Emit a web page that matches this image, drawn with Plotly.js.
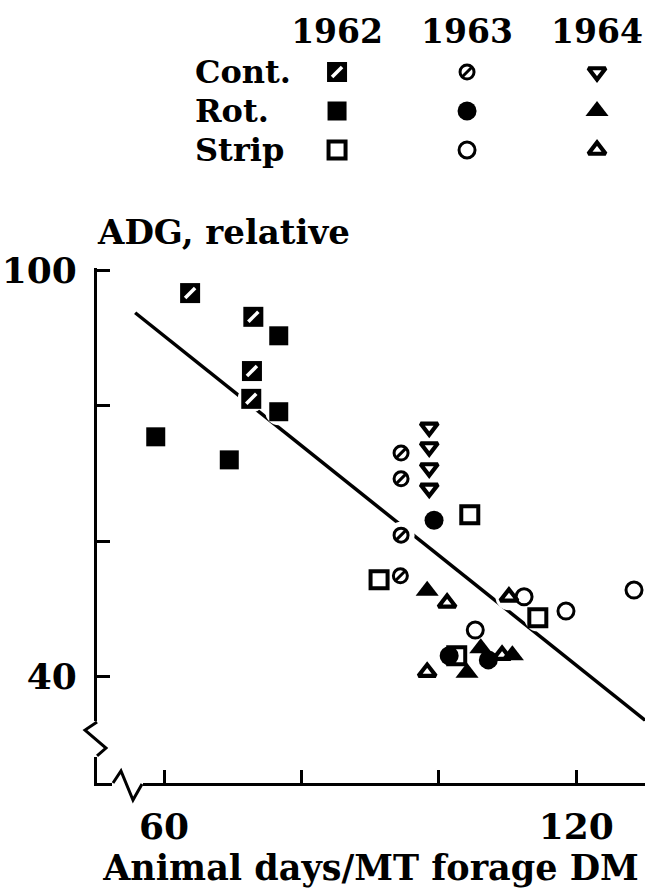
<!DOCTYPE html>
<html>
<head>
<meta charset="utf-8">
<script src="https://cdn.plot.ly/plotly-3.0.1.min.js"></script>
<style>html,body{margin:0;padding:0;background:#fff}#chart{width:660px;height:894px}</style>
</head>
<body>
<div id="chart"></div>
<script>
// ---- data ----
const years = ['1962', '1963', '1964'];
const groups = ['Cont.', 'Rot.', 'Strip'];

const cont1962X = [63.8, 73.0, 72.8, 72.7];
const cont1962Y = [96.6, 93.1, 85.1, 81.0];
const rot1962X = [76.7, 76.7, 58.8, 69.5];
const rot1962Y = [90.3, 79.1, 75.4, 72.0];
const strip1962X = [91.3, 104.5, 114.4, 102.6];
const strip1962Y = [54.3, 63.9, 48.7, 43.1];

const cont1963X = [94.5, 94.5, 94.5, 94.4];
const cont1963Y = [73.0, 69.2, 60.9, 54.9];
const rot1963X = [99.3, 107.2, 101.5];
const rot1963Y = [63.1, 42.5, 43.1];
const strip1963X = [112.4, 118.5, 128.4, 105.3];
const strip1963Y = [51.8, 49.7, 52.8, 46.9];

const cont1964X = [98.6, 98.6, 98.6, 98.6];
const cont1964Y = [76.8, 73.9, 70.8, 67.8];
const rot1964X = [98.3, 104.1, 106.1, 110.7];
const rot1964Y = [52.7, 40.6, 44.2, 43.2];
const strip1964X = [101.2, 110.2, 98.3, 109.2];
const strip1964Y = [50.9, 51.8, 40.7, 43.2];

const fitX = [55.8, 130.0];
const fitY = [93.7, 33.6];

const xTickVals = [60, 80, 100, 120];
const xTickText = ['60', '', '', '120'];
const yTickVals = [40, 60, 80, 100];
const yTickText = ['40', '', '', '100'];

// ---- styling ----
const W = 660, H = 894;
const px = x => x / W;
const py = y => 1 - y / H;
const font = size => ({family: 'DejaVu Serif', size: size, color: '#000', weight: 'bold'});

const series = [
  {year: '1962', group: 'Cont.', x: cont1962X, y: cont1962Y, layers: [
    {symbol: 'square', size: 20, color: '#000', lw: 0},
    {symbol: 'line-ne', size: 10, color: '#fff', lw: 3.5}]},
  {year: '1962', group: 'Rot.', x: rot1962X, y: rot1962Y, layers: [
    {symbol: 'square', size: 19, color: '#000', lw: 0}]},
  {year: '1962', group: 'Strip', x: strip1962X, y: strip1962Y, layers: [
    {symbol: 'square-open', size: 17, color: '#000', lw: 4}]},
  {year: '1963', group: 'Cont.', x: cont1963X, y: cont1963Y, layers: [
    {symbol: 'circle-open', size: 14, color: '#000', lw: 3},
    {symbol: 'line-ne', size: 9, color: '#000', lw: 3}]},
  {year: '1963', group: 'Rot.', x: rot1963X, y: rot1963Y, layers: [
    {symbol: 'circle', size: 19, color: '#000', lw: 0}]},
  {year: '1963', group: 'Strip', x: strip1963X, y: strip1963Y, layers: [
    {symbol: 'circle-open', size: 16, color: '#000', lw: 3}]},
  {year: '1964', group: 'Cont.', x: cont1964X, y: cont1964Y, layers: [
    {symbol: 'triangle-down-open', size: 15, color: '#000', lw: 4.2}]},
  {year: '1964', group: 'Rot.', x: rot1964X, y: rot1964Y, layers: [
    {symbol: 'triangle-up', size: 20, color: '#000', lw: 0}]},
  {year: '1964', group: 'Strip', x: strip1964X, y: strip1964Y, layers: [
    {symbol: 'triangle-up-open', size: 15, color: '#000', lw: 4.2}]}
];

const traces = [];
// fitted line
traces.push({type: 'scatter', mode: 'lines', x: fitX, y: fitY, xaxis: 'x', yaxis: 'y',
  line: {color: '#000', width: 3.5}, hoverinfo: 'skip', showlegend: false});
// white halo so the line breaks around the points
traces.push({type: 'scatter', mode: 'markers',
  x: [].concat(...series.map(s => s.x)), y: [].concat(...series.map(s => s.y)),
  xaxis: 'x', yaxis: 'y', marker: {symbol: 'circle', size: 27, color: '#fff'},
  hoverinfo: 'skip', showlegend: false});

series.forEach(s => {
  s.layers.forEach(l => {
    const marker = {symbol: l.symbol, size: l.size, color: l.color,
      line: {color: l.color, width: l.lw}};
    traces.push({type: 'scatter', mode: 'markers', x: s.x, y: s.y, xaxis: 'x', yaxis: 'y',
      marker: marker, showlegend: false, name: s.group + ' ' + s.year});
    traces.push({type: 'scatter', mode: 'markers', x: [s.year], y: [s.group], xaxis: 'x2', yaxis: 'y2',
      marker: marker, showlegend: false, hoverinfo: 'skip'});
  });
});

// axis-break zigzags (white cover + black zigzag)
const zzY = [[97, 722], [85, 730], [106, 748], [97, 756]];
const zzX = [[113, 783], [121, 771], [133, 800], [142, 784]];
const toPath = pts => pts.map((p, i) => (i ? 'L' : 'M') + px(p[0]).toFixed(4) + ',' + py(p[1]).toFixed(4)).join(' ');
const shapes = [
  {type: 'line', xref: 'paper', yref: 'paper', x0: px(97), x1: px(97), y0: py(721), y1: py(757),
    line: {color: '#fff', width: 6}, layer: 'above'},
  {type: 'line', xref: 'paper', yref: 'paper', x0: px(112), x1: px(143), y0: py(783), y1: py(783),
    line: {color: '#fff', width: 6}, layer: 'above'},
  {type: 'path', xref: 'paper', yref: 'paper', path: toPath(zzY), line: {color: '#000', width: 3}, layer: 'above'},
  {type: 'path', xref: 'paper', yref: 'paper', path: toPath(zzX), line: {color: '#000', width: 3}, layer: 'above'}
];

const annotations = groups.map(g => ({
  text: g, xref: 'paper', yref: 'y2', x: px(193), y: g, xanchor: 'left', yanchor: 'middle',
  showarrow: false, font: font(32)
}));
annotations.push({text: 'ADG, relative', xref: 'paper', yref: 'paper', x: px(95), y: py(232),
  xanchor: 'left', yanchor: 'middle', showarrow: false, font: font(34)});

const layout = {
  width: W, height: H,
  margin: {l: 0, r: 0, t: 0, b: 0},
  paper_bgcolor: '#fff', plot_bgcolor: '#fff',
  showlegend: false,
  font: font(30),
  xaxis: {
    domain: [px(97), px(645)], range: [50.25, 130.0], anchor: 'y',
    showline: true, linecolor: '#000', linewidth: 3, mirror: false,
    showgrid: false, zeroline: false,
    ticks: 'inside', ticklen: 13, tickwidth: 3, tickcolor: '#000',
    tickvals: xTickVals, ticktext: xTickText, tickfont: font(36), ticklabelstandoff: 10,
    title: {text: 'Animal days/MT forage DM', font: font(35), standoff: 2}
  },
  yaxis: {
    domain: [py(783), py(268)], range: [24.34, 100.3], anchor: 'x',
    showline: true, linecolor: '#000', linewidth: 3,
    showgrid: false, zeroline: false,
    ticks: 'inside', ticklen: 13, tickwidth: 3, tickcolor: '#000',
    tickvals: yTickVals, ticktext: yTickText, tickfont: font(36), ticklabelstandoff: 10
  },
  xaxis2: {
    domain: [px(300), px(655)], range: [-0.285, 2.446], type: 'category',
    categoryarray: years, categoryorder: 'array', anchor: 'y2', side: 'top',
    showline: false, showgrid: false, zeroline: false, ticks: '', tickfont: font(33),
    ticklabelstandoff: 2, fixedrange: true
  },
  yaxis2: {
    domain: [py(169.5), py(52.5)], range: [2.5, -0.5], type: 'category',
    categoryarray: groups, categoryorder: 'array', anchor: 'x2',
    showline: false, showgrid: false, zeroline: false, ticks: '', showticklabels: false, fixedrange: true
  },
  shapes: shapes,
  annotations: annotations
};

Plotly.newPlot('chart', traces, layout, {displayModeBar: false, staticPlot: true});
</script>
</body>
</html>
